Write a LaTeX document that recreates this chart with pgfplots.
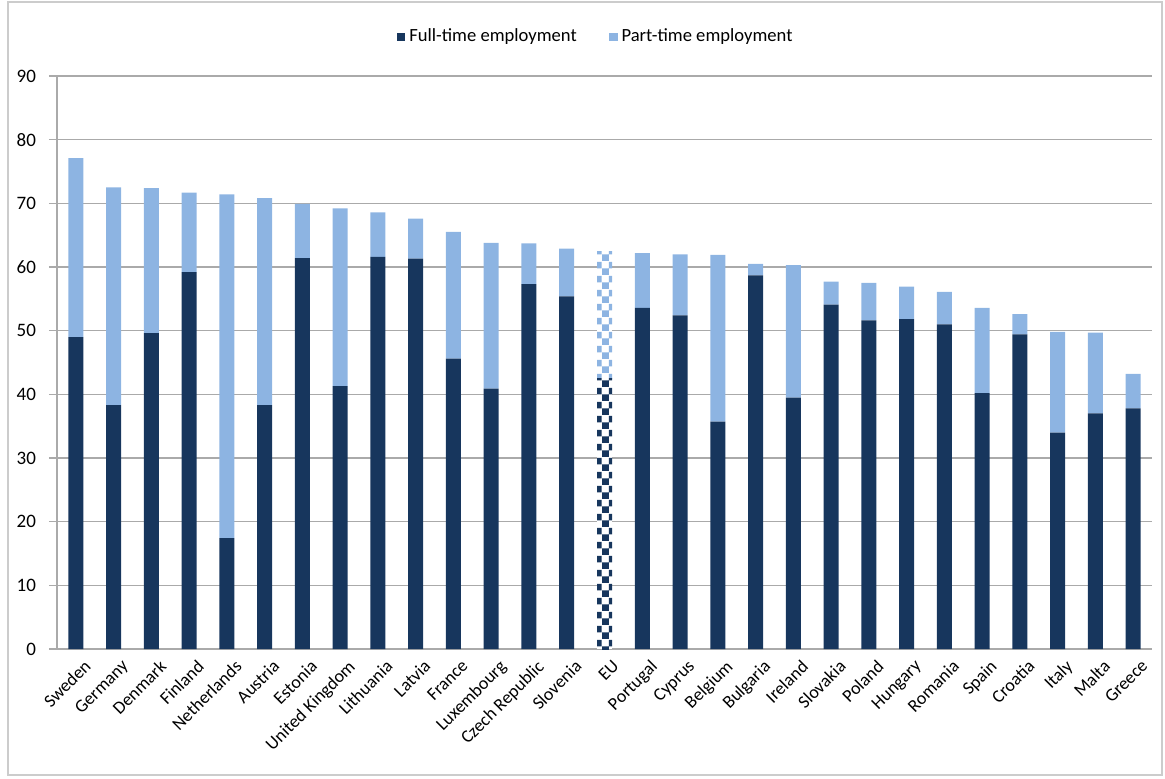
\documentclass[border=0pt]{standalone}
\usepackage{pgfplots}
\pgfplotsset{compat=1.18}
\usepackage{fontspec}
\setmainfont{Carlito}
\usetikzlibrary{patterns}
\definecolor{navy}{RGB}{23,54,93}
\definecolor{lightb}{RGB}{141,180,226}
\definecolor{gridc}{RGB}{170,170,170}
\pgfdeclarepatternformonly{mycheck}{\pgfpointorigin}{\pgfqpoint{7pt}{7pt}}{\pgfqpoint{7pt}{7pt}}{%
  \pgfpathrectangle{\pgfpointorigin}{\pgfqpoint{3.5pt}{3.5pt}}%
  \pgfpathrectangle{\pgfqpoint{3.5pt}{3.5pt}}{\pgfqpoint{3.5pt}{3.5pt}}%
  \pgfusepath{fill}}
\begin{document}
\begin{tikzpicture}
\useasboundingbox (0,0) rectangle (582.5pt,389pt);
\draw[gridc!60, line width=0.6pt] (4pt,1.5pt) rectangle (581pt,388pt);
\begin{axis}[
  at={(28.5pt,64.5pt)}, anchor=south west,
  scale only axis, width=547.5pt, height=286.5pt,
  ybar stacked, bar width=7.5pt,
  xmin=-0.5, xmax=28.5, ymin=0, ymax=90,
  ytick={0,10,...,90},
  ymajorgrids, grid style={gridc, line width=0.6pt},
  axis x line*=bottom, axis y line*=left,
  axis line style={gridc, line width=0.6pt},
  xtick={0,...,28},
  xticklabels={Sweden,Germany,Denmark,Finland,Netherlands,Austria,Estonia,United Kingdom,Lithuania,Latvia,France,Luxembourg,Czech Republic,Slovenia,EU,Portugal,Cyprus,Belgium,Bulgaria,Ireland,Slovakia,Poland,Hungary,Romania,Spain,Croatia,Italy,Malta,Greece},
  x tick label style={rotate=45, anchor=north east, font=\fontsize{9}{10}\selectfont, inner sep=1pt, yshift=-2pt, xshift=3pt},
  major x tick style={draw=none},
  extra x ticks={-0.5,0.5,...,28.5},
  extra x tick labels={},
  extra x tick style={major tick length=4pt, tick align=outside, grid=none, tick style={gridc, line width=0.6pt}},
  y tick label style={font=\fontsize{9.5}{11}\selectfont, xshift=-3pt},
  /pgf/number format/assume math mode=true,
  major tick length=4pt, tick align=outside,
  ytick style={gridc, line width=0.6pt},
  legend style={at={(0.5,1)}, yshift=19.5pt, xshift=-4pt, anchor=center, draw=none, legend columns=-1,
    font=\fontsize{9.3}{11}\selectfont, /tikz/every even column/.append style={column sep=14pt}},
  legend image code/.code={\fill[#1] (0pt,-2.2pt) rectangle (4.4pt,2.2pt);},
]
% Full-time
\addplot[fill=navy, draw=none] coordinates {
(0,49.0) (1,38.3) (2,49.6) (3,59.2) (4,17.4) (5,38.3) (6,61.4) (7,41.3) (8,61.6) (9,61.3)
(10,45.6) (11,40.9) (12,57.3) (13,55.4) (14,0) (15,53.6) (16,52.4) (17,35.7) (18,58.7) (19,39.5)
(20,54.1) (21,51.6) (22,51.8) (23,51.0) (24,40.2) (25,49.4) (26,34.0) (27,37.0) (28,37.8)};
% Part-time
\addplot[fill=lightb, draw=none] coordinates {
(0,28.1) (1,34.2) (2,22.8) (3,12.5) (4,54.0) (5,32.5) (6,8.5) (7,27.9) (8,7.0) (9,6.3)
(10,19.9) (11,22.9) (12,6.4) (13,7.5) (14,0) (15,8.6) (16,9.6) (17,26.2) (18,1.8) (19,20.8)
(20,3.6) (21,5.9) (22,5.1) (23,5.1) (24,13.4) (25,3.2) (26,15.8) (27,12.7) (28,5.4)};
% EU full-time (patterned)
\addplot[fill=white, draw=none, postaction={pattern=mycheck, pattern color=navy}, forget plot] coordinates {
(0,0) (1,0) (2,0) (3,0) (4,0) (5,0) (6,0) (7,0) (8,0) (9,0)
(10,0) (11,0) (12,0) (13,0) (14,42.5) (15,0) (16,0) (17,0) (18,0) (19,0)
(20,0) (21,0) (22,0) (23,0) (24,0) (25,0) (26,0) (27,0) (28,0)};
% EU part-time (patterned)
\addplot[fill=white, draw=none, postaction={pattern=mycheck, pattern color=lightb}, forget plot] coordinates {
(0,0) (1,0) (2,0) (3,0) (4,0) (5,0) (6,0) (7,0) (8,0) (9,0)
(10,0) (11,0) (12,0) (13,0) (14,20.0) (15,0) (16,0) (17,0) (18,0) (19,0)
(20,0) (21,0) (22,0) (23,0) (24,0) (25,0) (26,0) (27,0) (28,0)};
\legend{Full-time employment, Part-time employment}
\end{axis}
\end{tikzpicture}
\end{document}
